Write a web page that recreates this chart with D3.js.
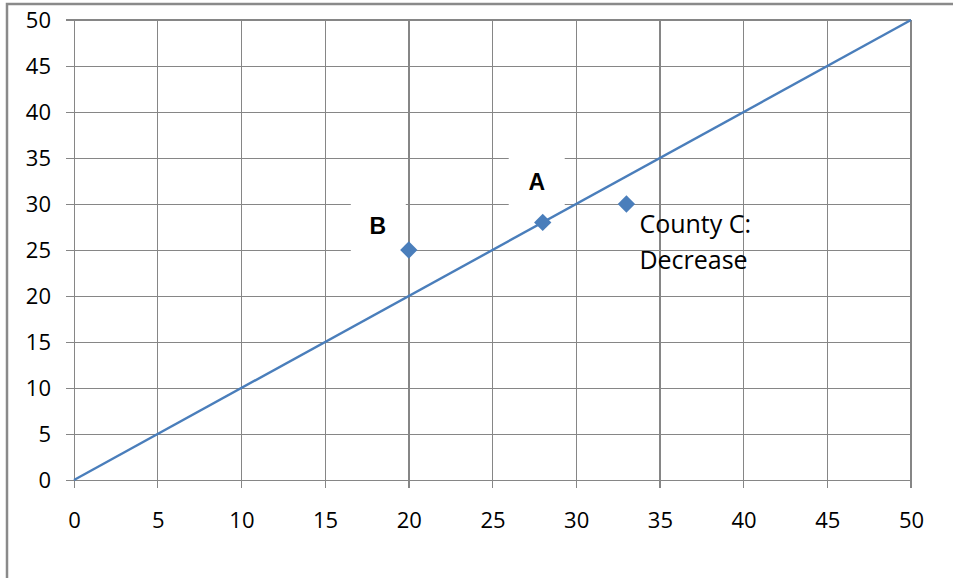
<!DOCTYPE html>
<html><head><meta charset="utf-8">
<script src="https://cdn.jsdelivr.net/npm/d3@7"></script>
<style>body{margin:0;background:#fff}svg{display:block}</style>
</head><body>
<script>
const xTicks = [0,5,10,15,20,25,30,35,40,45,50];
const yTicks = [0,5,10,15,20,25,30,35,40,45,50];
const lineX = [0,50];
const lineY = [0,50];
const pointNames = ["B","A","County C:"];
const pointX = [20,28,33];
const pointY = [25,28,30];
const cLabel = ["County C:","Decrease"];

const W=953,H=578;
const svg=d3.select("body").append("svg").attr("width",W).attr("height",H);
const x=d3.scaleLinear().domain([0,50]).range([74,911]);
const y=d3.scaleLinear().domain([0,50]).range([480,20]);
const grid="#868686";
const font="'Open Sans', sans-serif";

// outer frame
svg.append("path").attr("d",`M7,578 L7,4 L953,4`).attr("fill","none").attr("stroke","#8a8a8a").attr("stroke-width",2.5);

// gridlines
const g=svg.append("g");
g.selectAll("line.h").data(yTicks).join("line")
 .attr("x1",66).attr("x2",x(50)).attr("y1",d=>y(d)).attr("y2",d=>y(d))
 .attr("stroke",grid).attr("stroke-width",d=>d===50?2:1).attr("shape-rendering","crispEdges");

// white label boxes (behind vertical lines at B)
const bp={x:x(pointX[0]),y:y(pointY[0])}, ap={x:x(pointX[1]),y:y(pointY[1])};
svg.append("rect").attr("x",bp.x-58).attr("y",bp.y-54).attr("width",55).attr("height",60).attr("fill","#fff");

g.selectAll("line.v").data(xTicks).join("line")
 .attr("x1",d=>x(d)).attr("x2",d=>x(d)).attr("y1",y(50)).attr("y2",488)
 .attr("stroke",grid).attr("stroke-width",d=>(d===50||d===20||d===35)?2:1).attr("shape-rendering","crispEdges");

svg.append("rect").attr("x",ap.x-34).attr("y",ap.y-72).attr("width",56).attr("height",60).attr("fill","#fff");

// axis labels via d3 axes
const ax=svg.append("g").attr("transform",`translate(0,${y(0)})`)
 .call(d3.axisBottom(x).tickValues(xTicks).tickSize(0).tickPadding(32));
const ay=svg.append("g").attr("transform",`translate(${x(0)},0)`)
 .call(d3.axisLeft(y).tickValues(yTicks).tickSize(0).tickPadding(23));
[ax,ay].forEach(a=>{a.select(".domain").remove();
 a.selectAll("text").attr("font-family",font).attr("font-size",22).attr("fill","#000");});

// line
svg.append("path").datum(lineX.map((d,i)=>[d,lineY[i]]))
 .attr("d",d3.line().x(d=>x(d[0])).y(d=>y(d[1])))
 .attr("fill","none").attr("stroke","#4a7ebb").attr("stroke-width",2.4);

// markers
svg.selectAll("path.pt").data(pointX.map((d,i)=>[d,pointY[i]])).join("path")
 .attr("d",d3.symbol(d3.symbolSquare,150))
 .attr("transform",d=>`translate(${x(d[0])},${y(d[1])}) rotate(45)`)
 .attr("fill","#4a7ebb");

// labels
const bold="'Liberation Sans', Arial, sans-serif";
svg.append("text").attr("x",bp.x-31).attr("y",bp.y-16).attr("text-anchor","middle")
 .attr("font-family",bold).attr("font-weight","bold").attr("font-size",23).text(pointNames[0]);
svg.append("text").attr("x",ap.x-6).attr("y",ap.y-32).attr("text-anchor","middle")
 .attr("font-family",bold).attr("font-weight","bold").attr("font-size",23).text(pointNames[1]);
const cp={x:x(pointX[2]),y:y(pointY[2])};
svg.append("text").attr("font-family",font).attr("font-size",25)
 .selectAll("tspan").data(cLabel).join("tspan")
 .attr("x",cp.x+13).attr("y",(d,i)=>cp.y+29+i*36).text(d=>d);
</script>
</body></html>
